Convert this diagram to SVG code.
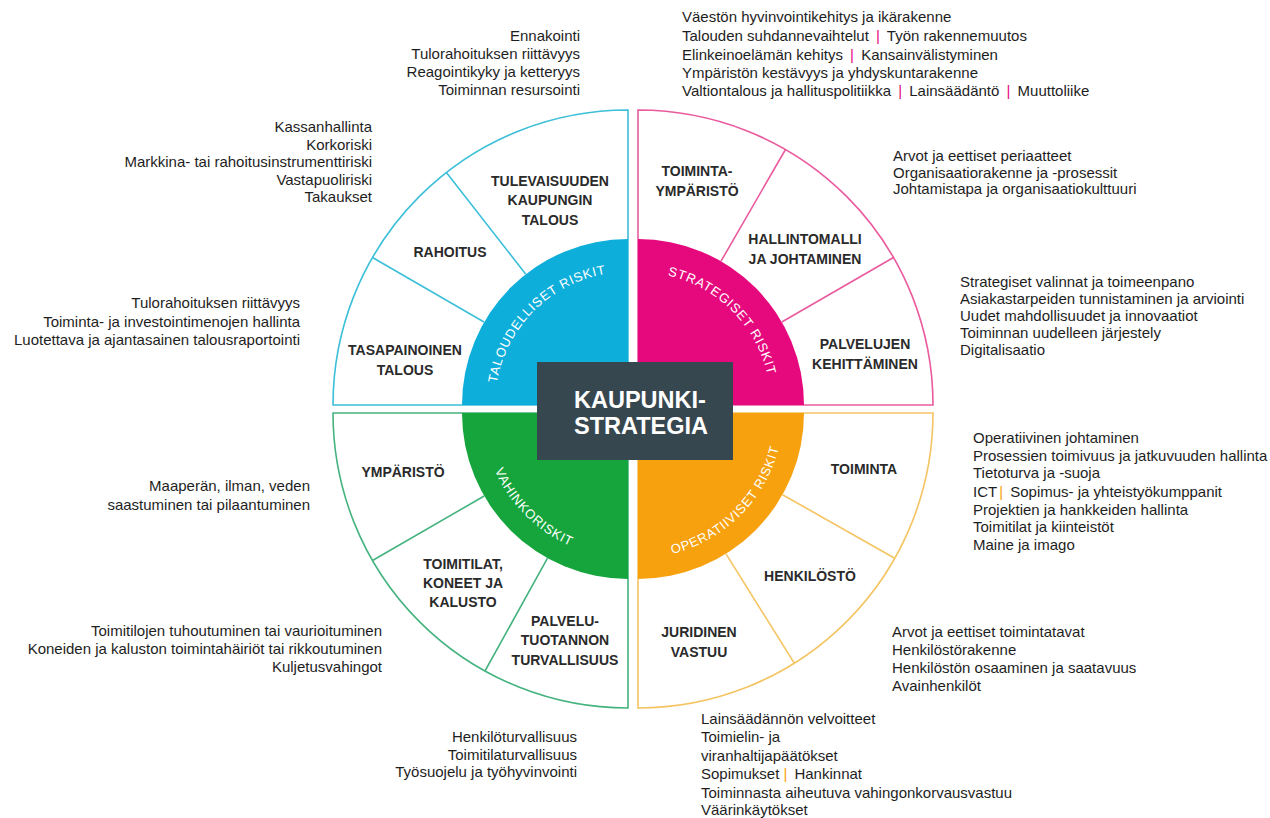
<svg xmlns="http://www.w3.org/2000/svg" width="1270" height="818" viewBox="0 0 1270 818">
<defs>
<style>
.t{font-family:"Liberation Sans",Arial,sans-serif;font-size:15px;fill:#1e1e1e}
.e{text-anchor:end}
.lb{font-family:"Liberation Sans",Arial,sans-serif;font-size:14px;font-weight:bold;fill:#2a2a2a;text-anchor:middle}
.arc{font-family:"Liberation Sans",Arial,sans-serif;font-size:13px;fill:#fff;letter-spacing:0.8px}
.ps{fill:#e6087d}
.os{fill:#f7a10f}
.ring{fill:#fff;stroke-width:1.6}
.div{fill:none;stroke-width:1.6}
</style>
<path id="pTL" d="M495,405 A133,133 0 0 1 628,272"/>
<path id="pTR" d="M638,272 A133,133 0 0 1 771,405"/>
<path id="pBL" d="M483,413 A145,145 0 0 0 628,558"/>
<path id="pBR" d="M638,558 A145,145 0 0 0 783,413"/>
</defs>
<rect width="1270" height="818" fill="#fff"/>

<g id="q-taloudelliset">
<path class="ring" stroke="#3cbfd8" d="M628,405 L333,405 A295,295 0 0 1 628,110 Z"/>
<path fill="#0eaedb" d="M628,405 L462,405 A166,166 0 0 1 628,239 Z"/>
<path class="div" stroke="#3cbfd8" d="M484,322 L372.5,257.5 M525.8,274.2 L446.4,172.5"/>
<text class="arc"><textPath href="#pTL" startOffset="50%" text-anchor="middle">TALOUDELLISET RISKIT</textPath></text>
<text class="lb" x="550" y="186">TULEVAISUUDEN</text>
<text class="lb" x="550" y="205">KAUPUNGIN</text>
<text class="lb" x="550" y="225">TALOUS</text>
<text class="lb" x="450" y="257">RAHOITUS</text>
<text class="lb" x="405" y="355">TASAPAINOINEN</text>
<text class="lb" x="405" y="375">TALOUS</text>
</g>

<g id="q-strategiset">
<path class="ring" stroke="#ea5a9e" d="M638,405 L933,405 A295,295 0 0 0 638,110 Z"/>
<path fill="#e6087d" d="M638,405 L804,405 A166,166 0 0 0 638,239 Z"/>
<path class="div" stroke="#ea5a9e" d="M781.8,322 L893.5,257.5 M721,261.2 L785.5,149.5"/>
<text class="arc"><textPath href="#pTR" startOffset="50%" text-anchor="middle">STRATEGISET RISKIT</textPath></text>
<text class="lb" x="697" y="176">TOIMINTA-</text>
<text class="lb" x="697" y="196">YMPÄRISTÖ</text>
<text class="lb" x="805" y="244">HALLINTOMALLI</text>
<text class="lb" x="805" y="264">JA JOHTAMINEN</text>
<text class="lb" x="865" y="349">PALVELUJEN</text>
<text class="lb" x="865" y="369">KEHITTÄMINEN</text>
</g>

<g id="q-vahinkoriskit">
<path class="ring" stroke="#45b37f" d="M628,413 L333,413 A295,295 0 0 0 628,708 Z"/>
<path fill="#15a53c" d="M628,413 L462,413 A166,166 0 0 0 628,579 Z"/>
<path class="div" stroke="#45b37f" d="M484.2,496 L372.5,560.5 M547.5,558.2 L485,671"/>
<text class="arc"><textPath href="#pBL" startOffset="50%" text-anchor="middle">VAHINKORISKIT</textPath></text>
<text class="lb" x="403" y="477">YMPÄRISTÖ</text>
<text class="lb" x="463" y="569">TOIMITILAT,</text>
<text class="lb" x="463" y="588">KONEET JA</text>
<text class="lb" x="463" y="607">KALUSTO</text>
<text class="lb" x="565" y="626">PALVELU-</text>
<text class="lb" x="565" y="645">TUOTANNON</text>
<text class="lb" x="565" y="665">TURVALLISUUS</text>
</g>

<g id="q-operatiiviset">
<path class="ring" stroke="#f5c462" d="M638,413 L933,413 A295,295 0 0 1 638,708 Z"/>
<path fill="#f7a10f" d="M638,413 L804,413 A166,166 0 0 1 638,579 Z"/>
<path class="div" stroke="#f5c462" d="M782.5,494.7 L894.7,558.2 M726,553.8 L794.3,663.2"/>
<text class="arc"><textPath href="#pBR" startOffset="50%" text-anchor="middle">OPERATIIVISET RISKIT</textPath></text>
<text class="lb" x="864" y="474">TOIMINTA</text>
<text class="lb" x="810" y="581">HENKILÖSTÖ</text>
<text class="lb" x="699" y="637">JURIDINEN</text>
<text class="lb" x="699" y="657">VASTUU</text>
</g>

<g id="center">
<rect x="537" y="362" width="196" height="98" fill="#37474f"/>
<text x="574" y="408" font-family="Liberation Sans,Arial,sans-serif" font-size="23.5" font-weight="bold" fill="#fff">KAUPUNKI-</text>
<text x="574" y="434" font-family="Liberation Sans,Arial,sans-serif" font-size="23.5" font-weight="bold" fill="#fff">STRATEGIA</text>
</g>

<g id="connectors"></g>

<g id="txt-tulevaisuus">
<text class="t e" x="580" y="41">Ennakointi</text>
<text class="t e" x="580" y="59">Tulorahoituksen riittävyys</text>
<text class="t e" x="580" y="77">Reagointikyky ja ketteryys</text>
<text class="t e" x="580" y="95">Toiminnan resursointi</text>
</g>

<g id="txt-toimintaymparisto">
<text class="t" x="682" y="22">Väestön hyvinvointikehitys ja ikärakenne</text>
<text class="t" x="682" y="41">Talouden suhdannevaihtelut <tspan class="ps" dx="3">|</tspan><tspan dx="3"> Työn rakennemuutos</tspan></text>
<text class="t" x="682" y="60">Elinkeinoelämän kehitys <tspan class="ps" dx="3">|</tspan><tspan dx="3"> Kansainvälistyminen</tspan></text>
<text class="t" x="682" y="78">Ympäristön kestävyys ja yhdyskuntarakenne</text>
<text class="t" x="682" y="96">Valtiontalous ja hallituspolitiikka <tspan class="ps" dx="3">|</tspan><tspan dx="3"> Lainsäädäntö </tspan><tspan class="ps" dx="3">|</tspan><tspan dx="3"> Muuttoliike</tspan></text>
</g>

<g id="txt-rahoitus">
<text class="t e" x="372" y="132">Kassanhallinta</text>
<text class="t e" x="372" y="149.5">Korkoriski</text>
<text class="t e" x="372" y="167">Markkina- tai rahoitusinstrumenttiriski</text>
<text class="t e" x="372" y="184.5">Vastapuoliriski</text>
<text class="t e" x="372" y="202">Takaukset</text>
</g>

<g id="txt-hallintomalli">
<text class="t" x="893" y="161" font-size="16">Arvot ja eettiset periaatteet</text>
<text class="t" x="893" y="177.5" font-size="16">Organisaatiorakenne ja -prosessit</text>
<text class="t" x="893" y="194" font-size="16">Johtamistapa ja organisaatiokulttuuri</text>
</g>

<g id="txt-palvelujen">
<text class="t" x="960" y="287">Strategiset valinnat ja toimeenpano</text>
<text class="t" x="960" y="304">Asiakastarpeiden tunnistaminen ja arviointi</text>
<text class="t" x="960" y="321">Uudet mahdollisuudet ja innovaatiot</text>
<text class="t" x="960" y="338">Toiminnan uudelleen järjestely</text>
<text class="t" x="960" y="355">Digitalisaatio</text>
</g>

<g id="txt-tasapainoinen">
<text class="t e" x="300" y="308">Tulorahoituksen riittävyys</text>
<text class="t e" x="300" y="326.5">Toiminta- ja investointimenojen hallinta</text>
<text class="t e" x="300" y="345">Luotettava ja ajantasainen talousraportointi</text>
</g>

<g id="txt-toiminta">
<text class="t" x="973" y="443">Operatiivinen johtaminen</text>
<text class="t" x="973" y="461">Prosessien toimivuus ja jatkuvuuden hallinta</text>
<text class="t" x="973" y="478">Tietoturva ja -suoja</text>
<text class="t" x="973" y="497">ICT<tspan class="os" dx="2">|</tspan><tspan dx="3"> Sopimus- ja yhteistyökumppanit</tspan></text>
<text class="t" x="973" y="515">Projektien ja hankkeiden hallinta</text>
<text class="t" x="973" y="532">Toimitilat ja kiinteistöt</text>
<text class="t" x="973" y="550">Maine ja imago</text>
</g>

<g id="txt-ymparisto">
<text class="t e" x="310" y="491">Maaperän, ilman, veden</text>
<text class="t e" x="310" y="510">saastuminen tai pilaantuminen</text>
</g>

<g id="txt-toimitilat">
<text class="t e" x="382" y="636">Toimitilojen tuhoutuminen tai vaurioituminen</text>
<text class="t e" x="382" y="654">Koneiden ja kaluston toimintahäiriöt tai rikkoutuminen</text>
<text class="t e" x="382" y="672">Kuljetusvahingot</text>
</g>

<g id="txt-henkilosto">
<text class="t" x="892" y="637">Arvot ja eettiset toimintatavat</text>
<text class="t" x="892" y="655">Henkilöstörakenne</text>
<text class="t" x="892" y="673">Henkilöstön osaaminen ja saatavuus</text>
<text class="t" x="892" y="691">Avainhenkilöt</text>
</g>

<g id="txt-turvallisuus">
<text class="t e" x="577" y="742">Henkilöturvallisuus</text>
<text class="t e" x="577" y="759.5">Toimitilaturvallisuus</text>
<text class="t e" x="577" y="777">Työsuojelu ja työhyvinvointi</text>
</g>

<g id="txt-juridinen">
<text class="t" x="701" y="724">Lainsäädännön velvoitteet</text>
<text class="t" x="701" y="742">Toimielin- ja</text>
<text class="t" x="701" y="760.5">viranhaltijapäätökset</text>
<text class="t" x="701" y="779">Sopimukset<tspan class="os" dx="4">|</tspan><tspan dx="3"> Hankinnat</tspan></text>
<text class="t" x="701" y="797.5">Toiminnasta aiheutuva vahingonkorvausvastuu</text>
<text class="t" x="701" y="815">Väärinkäytökset</text>
</g>
</svg>
